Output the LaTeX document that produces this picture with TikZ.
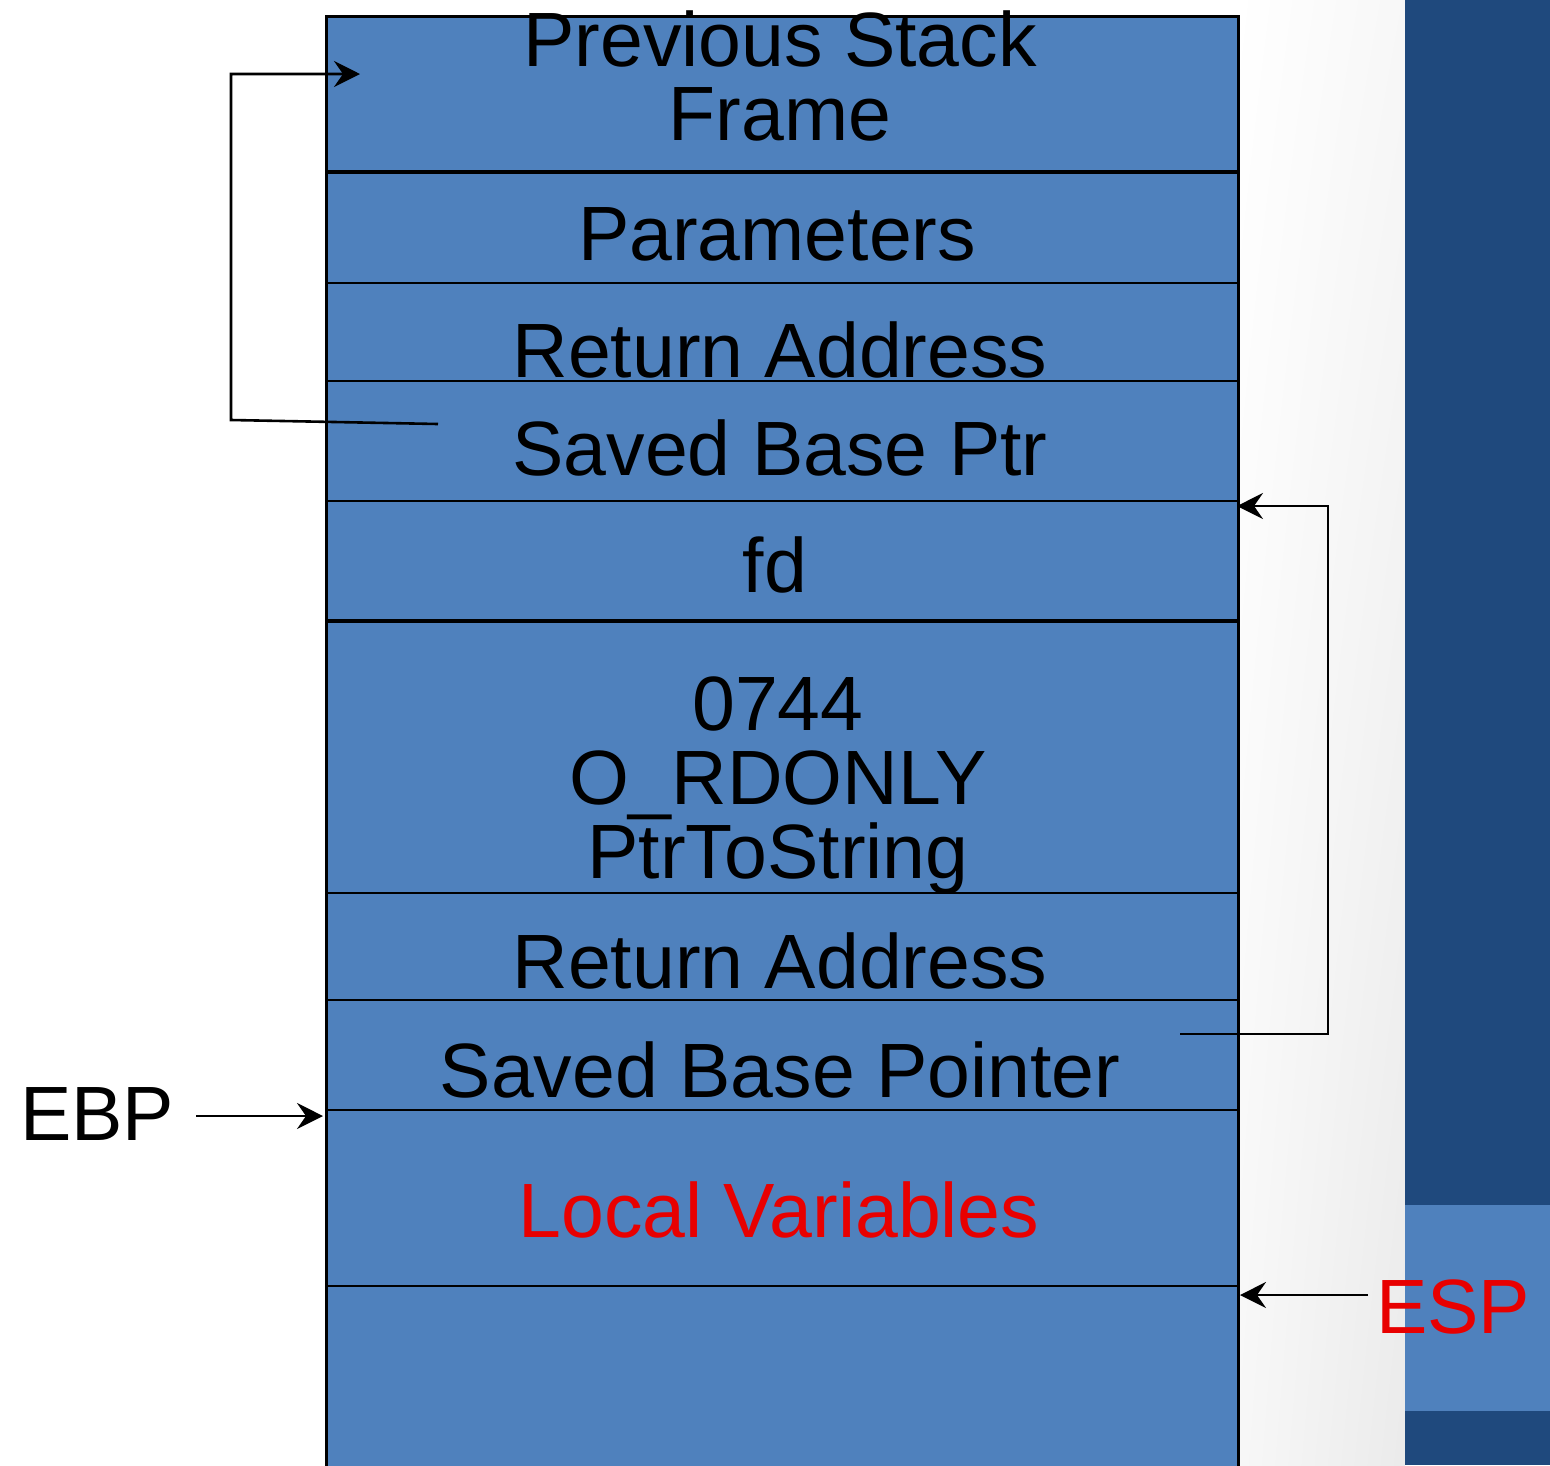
\documentclass[tikz,border=0pt]{standalone}
\usepackage{fontspec}
\setmainfont{Liberation Sans}
\usetikzlibrary{arrows.meta,shadings}
\definecolor{cellblue}{RGB}{79,129,189}
\definecolor{barblue}{RGB}{31,73,125}
\definecolor{alertred}{RGB}{232,0,0}
\tikzset{
  sep/.style={line width=2.5pt},
  septhick/.style={line width=4.5pt},
  conn/.style={line width=2.6pt},
  arr/.style={conn, -{Stealth[length=26pt,width=26pt,inset=9pt]}},
  % multi-line labels are anchored at the baseline of their last line
  lbl/.style={font=\fontsize{77}{74}\selectfont, anchor=base, inner sep=0pt, align=center},
}
\begin{document}
\begin{tikzpicture}[x=1pt,y=-1pt]
% canvas
\useasboundingbox (0,0) rectangle (1550,1465);
\fill[white] (0,0) rectangle (1405,1465);
\shade[upper left=white, upper right=gray!6, lower left=gray!6, lower right=gray!16]
  (1237,0) rectangle (1405,1465);
% side bar
\fill[barblue] (1405,0) rectangle (1550,1465);
\fill[cellblue] (1405,1205) rectangle (1550,1411);

% stack frame
\node[draw, line width=2.6pt, fill=cellblue, inner sep=0pt, anchor=north west,
      minimum width=912pt, minimum height=1470pt] (stack) at (325,15) {};
\draw[septhick] (325,172) -- (1237,172);
\draw[sep] (325,283) -- (1237,283);
\draw[sep] (325,381) -- (1237,381);
\draw[sep] (325,501) -- (1237,501);
\draw[septhick] (325,621) -- (1237,621);
\draw[sep] (325,893) -- (1237,893);
\draw[sep] (325,1000) -- (1237,1000);
\draw[sep] (325,1110) -- (1237,1110);
\draw[sep] (325,1286) -- (1237,1286);

% cell labels
\node[lbl] (prev) at (780,140) {Previous Stack\\Frame};
\node[lbl] (params) at (777,260) {Parameters};
\node[lbl] (ret1) at (780,377) {Return Address};
\node[lbl] (sbp1) at (780,475) {Saved Base Ptr};
\node[lbl] (fd) at (775,592) {fd};
\node[lbl] (args) at (778,878) {0744\\O\_RDONLY\\PtrToString};
\node[lbl] (ret2) at (780,988) {Return Address};
\node[lbl] (sbp2) at (780,1097) {Saved Base Pointer};
\node[lbl, text=alertred] (locals) at (779,1237) {Local Variables};

% register labels
\node[lbl, anchor=base west] (ebp) at (20,1140) {EBP};
\node[lbl, anchor=base west, text=alertred] (esp) at (1376,1333) {ESP};

% connector end points
\coordinate (prevTip) at (360,74);
\coordinate (sbp1Tail) at (438,424);
\coordinate (fdTip) at (1237,506);
\coordinate (sbp2Tail) at (1180,1034);
\coordinate (ebpTip) at (323,1116);
\coordinate (espTip) at (1240,1295);

% saved base pointer chain
\draw[arr] (sbp1Tail) -- (231,420) -- (231,74) -- (prevTip);
\draw[arr] (sbp2Tail) -- (1328,1034) -- (1328,506) -- (fdTip);

% register pointers
\draw[arr] (ebp.east |- ebpTip) ++(22,0) -- (ebpTip);
\draw[arr] (esp.west |- espTip) ++(-8,0) -- (espTip);
\end{tikzpicture}
\end{document}
